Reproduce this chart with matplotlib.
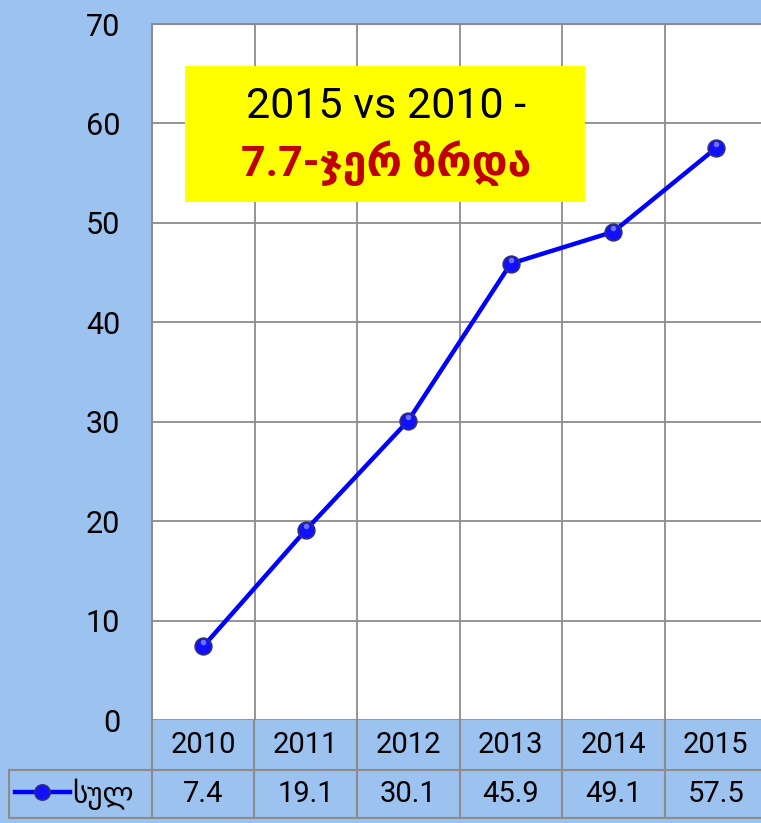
import matplotlib.pyplot as plt
import matplotlib.patches as patches

years = ['2010', '2011', '2012', '2013', '2014', '2015']
total = [7.4, 19.1, 30.1, 45.9, 49.1, 57.5]
value_labels = ['7.4', '19.1', '30.1', '45.9', '49.1', '57.5']
series_name = 'სულ'
yticks = [0, 10, 20, 30, 40, 50, 60, 70]
note_line1 = '2015 vs 2010 -'
note_line2 = '7.7-ჯერ ზრდა'

W, H = 761, 823
bg = '#9cc2f0'
grid_c = '#8c8c8c'
fonts = ['Roboto', 'DejaVu Sans']

fig = plt.figure(figsize=(W / 100, H / 100), dpi=100)
fig.patch.set_facecolor(bg)

# plot area in pixels
left, right, top, bottom = 152, 767, 24, 720
ax = fig.add_axes([left / W, 1 - bottom / H, (right - left) / W, (bottom - top) / H])
ax.set_facecolor('white')
x = list(range(len(years)))
ax.set_xlim(-0.5, len(years) - 0.5)
ax.set_ylim(0, 70)
ax.set_yticks(yticks)
ax.set_yticklabels([str(t) for t in yticks], fontsize=22, family=fonts)
ax.tick_params(axis='y', length=0, pad=23)
ax.set_xticks([i + 0.5 for i in x[:-1]])
ax.tick_params(axis='x', length=0, labelbottom=False)
ax.grid(True, color=grid_c, linewidth=1.3)
for s in ax.spines.values():
    s.set_color(grid_c)
    s.set_linewidth(1.5)
ax.spines['bottom'].set_visible(False)

ax.plot(x, total, color='#0000ff', linewidth=3.2, marker='o', markersize=12,
        markerfacecolor='#1010ff', markeredgecolor='#30307a', markeredgewidth=1.2,
        zorder=3)
# small highlight on the markers
ax.plot(x, [v + 0.4 for v in total], linestyle='none', marker='o', markersize=4,
        markerfacecolor='#7070ff', markeredgecolor='none', zorder=4)

# note box
box = patches.Rectangle((185 / W, 1 - 202 / H), 400 / W, 136 / H,
                        transform=fig.transFigure, facecolor='#ffff00',
                        edgecolor='none', zorder=5)
fig.patches.append(box)
fig.text(386 / W, 1 - 106 / H, note_line1, ha='center', va='center',
         fontsize=31, family=fonts, color='black', zorder=6)
fig.text(386 / W, 1 - 163 / H, note_line2, ha='center', va='center',
         fontsize=31, family=fonts, color='#c00000', fontweight='bold', zorder=6)

# data table below the plot
tleft, tbottom = 8, 819
unit = (right - left) / len(years)
x0 = -0.5 - (left - tleft) / unit
tab = fig.add_axes([tleft / W, 1 - tbottom / H, (right - tleft) / W, (tbottom - bottom) / H])
tab.set_xlim(x0, len(years) - 0.5)
tab.set_ylim(0, 2)
tab.axis('off')
lw = 1.5
tab.hlines([1], x0, len(years) - 0.5, color=grid_c, linewidth=lw)
tab.hlines([0.02], x0, len(years) - 0.5, color=grid_c, linewidth=lw)
tab.vlines([x0 + 0.01], 0, 1, color=grid_c, linewidth=lw)
tab.vlines([i - 0.5 for i in x], 0, 2, color=grid_c, linewidth=lw)
for i in x:
    tab.text(i, 1.5, years[i], ha='center', va='center', fontsize=21, family=fonts)
    tab.text(i, 0.5, value_labels[i], ha='center', va='center', fontsize=21, family=fonts)

# legend key in the table
kx = x0 + (42 - tleft) / unit
tab.plot([x0 + 0.07, kx + 0.27], [0.55, 0.55], color='#0000ff', linewidth=3.2)
tab.plot([kx], [0.55], marker='o', markersize=11, markerfacecolor='#1010ff',
         markeredgecolor='#30307a', markeredgewidth=1.2, color='#0000ff')
tab.text(x0 + (72 - tleft) / unit, 0.5, series_name, ha='left', va='center',
         fontsize=21, family=fonts)

fig.savefig('out.png', dpi=100, facecolor=bg)
